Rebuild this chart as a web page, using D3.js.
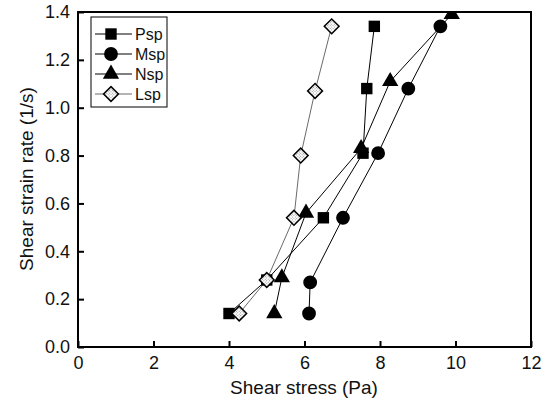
<!DOCTYPE html>
<html>
<head>
<meta charset="utf-8">
<script src="https://cdn.jsdelivr.net/npm/d3@7"></script>
<style>
body { margin: 0; background: #fff; }
text { font-family: "Liberation Sans", Arial, sans-serif; }
</style>
</head>
<body>
<div class="chart"></div>
<script>
var seriesNames = ["Psp", "Msp", "Nsp", "Lsp"];
var pspX = [4.0, 5.0, 6.5, 7.55, 7.65, 7.85];
var pspY = [0.14, 0.28, 0.54, 0.81, 1.08, 1.34];
var mspX = [6.12, 6.15, 7.02, 7.95, 8.75, 9.6];
var mspY = [0.14, 0.27, 0.54, 0.81, 1.08, 1.34];
var nspX = [5.2, 5.4, 6.04, 7.5, 8.27, 9.9];
var nspY = [0.14, 0.29, 0.56, 0.83, 1.11, 1.39];
var lspX = [4.27, 5.0, 5.72, 5.9, 6.28, 6.72];
var lspY = [0.14, 0.28, 0.54, 0.80, 1.07, 1.34];
var xTicks = [0, 2, 4, 6, 8, 10, 12];
var yTicks = [0.0, 0.2, 0.4, 0.6, 0.8, 1.0, 1.2, 1.4];

var width = 547, height = 403;
var mLeft = 78, mRight = 531, mTop = 12, mBottom = 347;

var svg = d3.select(".chart").append("svg")
	.attr("width", width)
	.attr("height", height);

var x = d3.scaleLinear().domain([0, 12]).range([mLeft, mRight]);
var y = d3.scaleLinear().domain([0, 1.4]).range([mBottom, mTop]);

// dotted fill for the hollow diamonds
var pat = svg.append("defs").append("pattern")
	.attr("id", "dots")
	.attr("width", 2).attr("height", 2)
	.attr("patternUnits", "userSpaceOnUse");
pat.append("rect").attr("width", 2).attr("height", 2).attr("fill", "#fff");
pat.append("rect").attr("width", 1).attr("height", 1).attr("fill", "#999");

var series = [
	{ name: "Psp", xs: pspX, ys: pspY, shape: d3.symbolSquare, size: 130, rot: 0, fill: "#000", line: "#000", lw: 1 },
	{ name: "Msp", xs: mspX, ys: mspY, shape: d3.symbolCircle, size: 150, rot: 0, fill: "#000", line: "#000", lw: 1 },
	{ name: "Nsp", xs: nspX, ys: nspY, shape: d3.symbolTriangle, size: 115, rot: 0, fill: "#000", line: "#000", lw: 1 },
	{ name: "Lsp", xs: lspX, ys: lspY, shape: d3.symbolSquare, size: 110, rot: 45, fill: "url(#dots)", line: "#444", lw: 0.8 }
];

var line = d3.line()
	.x(function(d) { return x(d[0]); })
	.y(function(d) { return y(d[1]); });

// lines first, then markers
for (var i = 0; i < series.length; i++) {
	var s = series[i];
	var pts = s.xs.map(function(v, j) { return [v, s.ys[j]]; });
	s.pts = pts;
	svg.append("path")
		.attr("d", line(pts))
		.attr("fill", "none")
		.attr("stroke", s.line)
		.attr("stroke-width", s.lw);
}

svg.append("clipPath").attr("id", "plotclip").append("rect")
	.attr("x", mLeft - 10).attr("y", mTop).attr("width", mRight - mLeft + 20).attr("height", mBottom - mTop + 10);

for (var i = 0; i < series.length; i++) {
	var s = series[i];
	var sym = d3.symbol().type(s.shape).size(s.size);
	svg.append("g").attr("clip-path", "url(#plotclip)")
		.selectAll("path")
		.data(s.pts)
		.enter().append("path")
		.attr("d", sym)
		.attr("transform", function(d) { return "translate(" + x(d[0]) + "," + y(d[1]) + ") rotate(" + s.rot + ")"; })
		.attr("fill", s.fill)
		.attr("stroke", "#000")
		.attr("stroke-width", s.name === "Lsp" ? 1.5 : 0);
}

// axes with inward ticks
var xAxis = svg.append("g")
	.attr("transform", "translate(0," + mBottom + ")")
	.call(d3.axisBottom(x).tickValues(xTicks).tickSizeInner(-6).tickSizeOuter(0).tickPadding(9)
		.tickFormat(d3.format("d")));
var yAxis = svg.append("g")
	.attr("transform", "translate(" + mLeft + ",0)")
	.call(d3.axisLeft(y).tickValues(yTicks).tickSizeInner(-6).tickSizeOuter(0).tickPadding(8)
		.tickFormat(d3.format(".1f")));

[xAxis, yAxis].forEach(function(a) {
	a.attr("font-size", 18).attr("font-family", "'Liberation Sans', Arial, sans-serif");
	a.select(".domain").remove();
	a.selectAll("line").attr("stroke", "#000").attr("stroke-width", 2);
	a.selectAll("text").attr("fill", "#111");
});

// frame
svg.append("rect")
	.attr("x", mLeft).attr("y", mTop)
	.attr("width", mRight - mLeft).attr("height", mBottom - mTop)
	.attr("fill", "none")
	.attr("stroke", "#000")
	.attr("stroke-width", 2);

// axis titles
svg.append("text")
	.attr("x", 304)
	.attr("y", 394)
	.attr("text-anchor", "middle")
	.attr("font-size", 19)
	.attr("fill", "#111")
	.text("Shear stress (Pa)");

svg.append("text")
	.attr("transform", "translate(33,179) rotate(-90)")
	.attr("text-anchor", "middle")
	.attr("font-size", 19)
	.attr("fill", "#111")
	.text("Shear strain rate (1/s)");

// legend
var lg = svg.append("g");
lg.append("rect")
	.attr("x", 91).attr("y", 17).attr("width", 76).attr("height", 90)
	.attr("fill", "#fff").attr("stroke", "#000").attr("stroke-width", 1);

for (var i = 0; i < series.length; i++) {
	var s = series[i];
	var ly = 34 + i * 20;
	lg.append("line")
		.attr("x1", 95).attr("x2", 132)
		.attr("y1", ly).attr("y2", ly)
		.attr("stroke", s.line).attr("stroke-width", s.lw);
	lg.append("path")
		.attr("d", d3.symbol().type(s.shape).size(s.size)())
		.attr("transform", "translate(111," + ly + ") rotate(" + s.rot + ")")
		.attr("fill", s.fill)
		.attr("stroke", "#000")
		.attr("stroke-width", s.name === "Lsp" ? 1.5 : 0);
	lg.append("text")
		.attr("x", 135).attr("y", ly + 6)
		.attr("font-size", 16)
		.attr("fill", "#111")
		.text(seriesNames[i]);
}
</script>
</body>
</html>
